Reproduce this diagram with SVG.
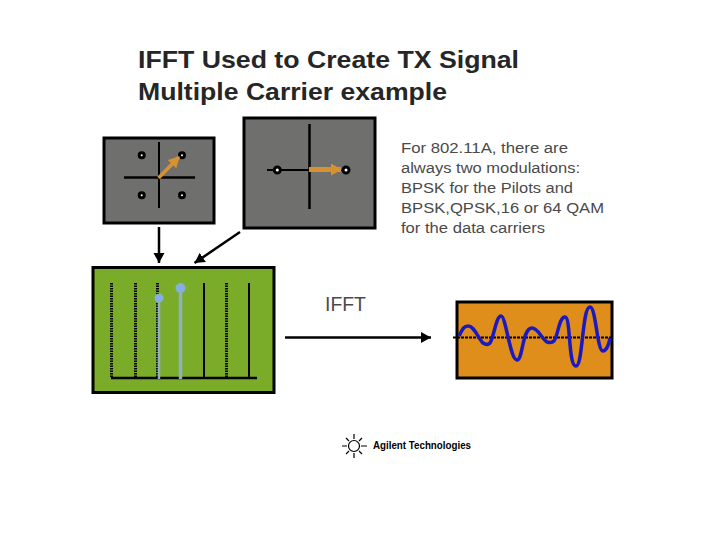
<svg xmlns="http://www.w3.org/2000/svg" width="720" height="540" viewBox="0 0 720 540">
<style>
.t{font-family:"Liberation Sans",Arial,sans-serif;fill:#4a4a4a}
.h{font-size:24.5px;font-weight:bold;fill:#262626}
.b{font-size:15.500px}
.ax{stroke:#000;fill:none}
.box{fill:#6f706e;stroke:#000;stroke-width:3}
.d{fill:#fff;stroke:#000;stroke-width:3}
.c{stroke:#000;stroke-width:2.500;fill:none}
.o{stroke:#d8912f;fill:none}
.dot{stroke-dasharray:1.500 1}
</style>
<defs>
<marker id="k" markerUnits="userSpaceOnUse" markerWidth="12" markerHeight="12" refX="10" refY="5.500" orient="auto"><path d="M0 0L10 5.500L0 11Z" fill="#000"/></marker>
<marker id="og" markerUnits="userSpaceOnUse" markerWidth="12" markerHeight="14" refX="10" refY="6" orient="auto"><path d="M0 0L11 6L0 12Z" fill="#d8912f"/></marker>
</defs>
<g id="title"><text class="t h" x="138" y="68" textLength="381" lengthAdjust="spacingAndGlyphs">IFFT Used to Create TX Signal</text><text class="t h" x="138" y="100" textLength="309" lengthAdjust="spacingAndGlyphs">Multiple Carrier example</text></g>
<g id="note" class="t b"><text x="401" y="153" textLength="167" lengthAdjust="spacingAndGlyphs">For 802.11A, there are</text><text x="401" y="173" textLength="179" lengthAdjust="spacingAndGlyphs">always two modulations:</text><text x="401" y="193" textLength="172" lengthAdjust="spacingAndGlyphs">BPSK for the Pilots and</text><text x="401" y="213" textLength="203" lengthAdjust="spacingAndGlyphs">BPSK,QPSK,16 or 64 QAM</text><text x="401" y="233" textLength="144" lengthAdjust="spacingAndGlyphs">for the data carriers</text></g>
<g id="qpsk">
<rect class="box" x="104" y="138" width="110" height="85"/>
<path class="ax" stroke-width="2.500" d="M124 177.500H195"/><path class="ax" stroke-width="2" d="M159 142V208"/>
<circle class="d" cx="141.700" cy="155.300" r="2.500"/><circle class="d" cx="182" cy="155.300" r="2.500"/><circle class="d" cx="141.700" cy="195.300" r="2.500"/><circle class="d" cx="182" cy="195.300" r="2.500"/>
<path class="o" stroke-width="3.500" marker-end="url(#og)" d="M158.500 178L179 157"/>
</g>
<g id="bpsk">
<rect class="box" x="244" y="118" width="131" height="110"/>
<path class="ax" stroke-width="2" d="M267 170H350"/><path class="ax" stroke-width="2.500" d="M309.500 124V209"/>
<circle class="d" cx="277.300" cy="170" r="3"/><circle class="d" cx="346" cy="170" r="3"/>
<path class="o" stroke-width="5" marker-end="url(#og)" d="M309 169.500H341"/>
</g>
<g id="spectrum">
<rect x="93" y="267.500" width="181" height="125" fill="#7aac2a" stroke="#000" stroke-width="3"/>
<g class="ax" stroke-width="3"><path class="dot" d="M111.500 283V377M135.500 283V377M157.500 283V377M226.500 283V377"/><path stroke-width="2" d="M204 283V377M249 283V377"/><path stroke-width="2.500" d="M111 378H257"/></g>
<path d="M159 298V379" stroke="#8fb0c0" stroke-width="2.500"/><path d="M180.500 288V379" stroke="#8fb0c0" stroke-width="3.500"/>
<circle cx="159" cy="298" r="4.500" fill="#86aee0"/><circle cx="180.500" cy="288" r="5" fill="#86aee0"/>
</g>
<g id="signal">
<rect x="457" y="302" width="155" height="76" fill="#df8d1b" stroke="#000" stroke-width="3"/>
<path d="M453 337.500H611" stroke="#000" stroke-width="2" stroke-dasharray="3 1" fill="none"/>
<path fill="none" stroke="#1a1ac0" stroke-width="3.500" d="M459 336C463 328 464 326 468.500 326C474 326 478 338 483 343C486 345 488 345 490 343C494 337 496 316 501 316C506 316 510 360 517 360C523 360 522 328 532 328C538 328 541 338 547 342C550 343 552 343 554 341C558 336 559 317 565 317C571 317 568 366 576 366C583 366 582 307 590 307C596 307 597 351 603 351C606 351 609 345 610 338"/>
</g>
<g id="label-ifft"><text class="t" x="325" y="311" font-size="20" textLength="41" lengthAdjust="spacingAndGlyphs">IFFT</text></g>
<g id="connectors">
<path class="c" marker-end="url(#k)" d="M159 227V263"/>
<path class="c" stroke-width="3" marker-end="url(#k)" d="M240 232L194.500 263"/>
<path class="c" marker-end="url(#k)" d="M285 337.500H431"/>
</g>
<g id="logo">
<g stroke="#000" stroke-width="1.200" fill="none"><circle cx="354" cy="446" r="5.500"/><path d="M342 446H347M361 446H367M354 434V439M354 453V458M346 438L349 441M362 438L359 441M346 454L349 451M362 454L359 451"/></g>
<text x="373" y="449" font-family="'Liberation Sans',Arial,sans-serif" font-weight="bold" font-size="10" fill="#000" textLength="98" lengthAdjust="spacingAndGlyphs">Agilent Technologies</text>
</g>
</svg>
